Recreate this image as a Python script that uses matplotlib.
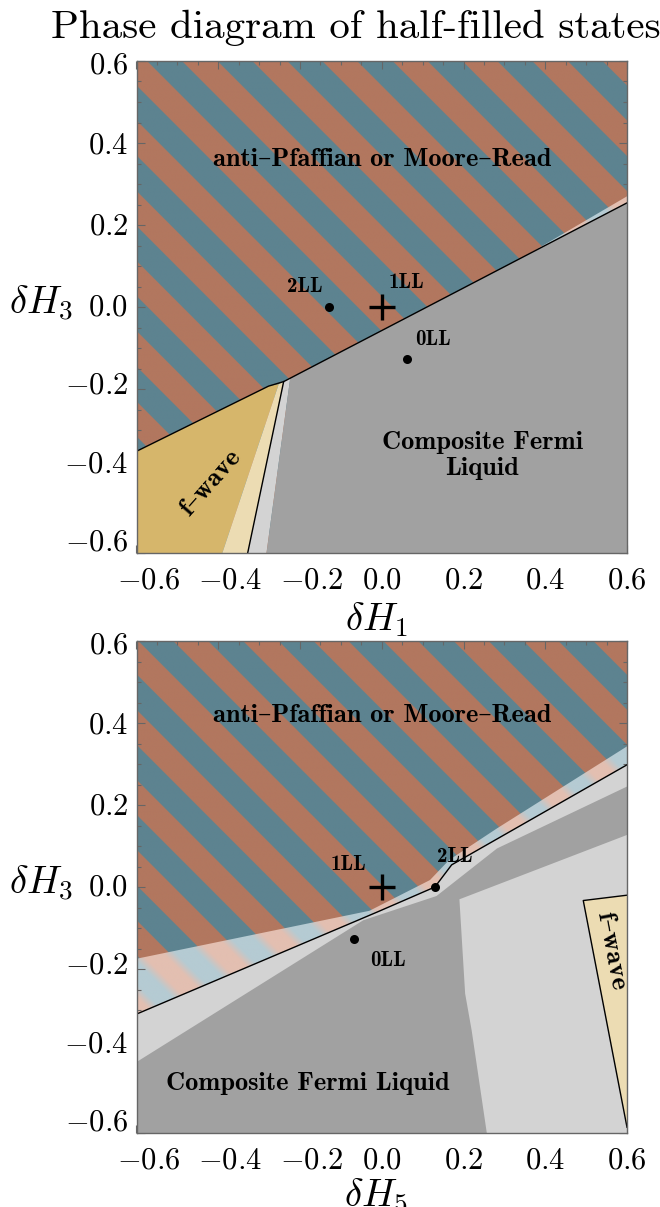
import numpy as np
import matplotlib
matplotlib.use("Agg")
import matplotlib.pyplot as plt
from matplotlib.patches import Polygon
from matplotlib import transforms as mtransforms
from matplotlib.ticker import MultipleLocator

plt.rcParams["mathtext.fontset"] = "cm"

# ---------------- data ----------------
tick_values = [-0.6, -0.4, -0.2, 0.0, 0.2, 0.4, 0.6]

# diagonal stripe pattern marking the anti-Pfaffian / Moore-Read phase
stripe_period = 0.1714
top_stripe_offset = 0.025
bot_stripe_offset = 0.003

# top panel (dH1, dH3)
top_boundary_x = [-0.6, -0.277, -0.240, 0.6]
top_boundary_y = [-0.352, -0.193, -0.182, 0.254]
top_fwave_edge_x = [-0.240, -0.328]
top_fwave_edge_y = [-0.182, -0.600]
top_fwave_dark_x = [-0.6, -0.277, -0.252, -0.390, -0.6]
top_fwave_dark_y = [-0.352, -0.193, -0.188, -0.600, -0.600]
top_fwave_pale_x = [-0.252, -0.240, -0.328, -0.390]
top_fwave_pale_y = [-0.188, -0.182, -0.600, -0.600]
top_cfl_pale_x = [-0.240, -0.224, -0.282, -0.328]
top_cfl_pale_y = [-0.182, -0.174, -0.600, -0.600]
top_cfl_x = [-0.224, 0.6, 0.6, -0.282]
top_cfl_y = [-0.174, 0.254, -0.6, -0.6]
top_pale_stripe_x = [0.35, 0.6, 0.6]
top_pale_stripe_y = [0.124, 0.254, 0.270]
top_points_x = [-0.13, 0.0, 0.062]
top_points_y = [0.0, 0.0, -0.128]
top_points_name = ["2LL", "1LL", "0LL"]

# bottom panel (dH5, dH3)
bot_boundary_x = [-0.6, -0.011, 0.13, 0.171, 0.6]
bot_boundary_y = [-0.310, -0.061, 0.0, 0.054, 0.298]
bot_pale_upper_x = [-0.6, -0.03, 0.118, 0.165, 0.282, 0.6]
bot_pale_upper_y = [-0.175, -0.058, 0.017, 0.066, 0.143, 0.343]
bot_cfl_strip_lower_x = [-0.6, -0.045, 0.134, 0.282, 0.6]
bot_cfl_strip_lower_y = [-0.427, -0.081, -0.022, 0.094, 0.245]
bot_cfl_pale_x = [0.19, 0.6, 0.6, 0.257, 0.22, 0.204]
bot_cfl_pale_y = [-0.03, 0.127, -0.6, -0.6, -0.35, -0.26]
bot_fwave_x = [0.493, 0.6, 0.6]
bot_fwave_y = [-0.033, -0.020, -0.586]
bot_points_x = [0.13, 0.0, -0.067]
bot_points_y = [0.0, 0.0, -0.128]
bot_points_name = ["2LL", "1LL", "0LL"]

# ---------------- style ----------------
col_blue = np.array([93, 131, 144]) / 255
col_orange = np.array([178, 119, 95]) / 255
col_blue_pale = np.array([181, 203, 211]) / 255
col_orange_pale = np.array([227, 191, 177]) / 255
col_cfl = "#a1a1a1"
col_cfl_pale = "#d3d3d3"
col_f_dark = "#d6b66b"
col_f_pale = "#ecdcb3"
frame_col = "#666666"

W, H = 660, 1207
fig = plt.figure(figsize=(W / 100, H / 100), dpi=100)

label_font = dict(family=["cmb10", "DejaVu Serif"], color="black")
region_size = 19
tick_size = 22


def px_box(left, top, right, bottom):
    return [left / W, 1 - bottom / H, (right - left) / W, (bottom - top) / H]


def stripes(ax, c_a, c_b, offset, clip=None, soft=False, z=0):
    n = 900
    g = np.linspace(-0.6, 0.6, n)
    X, Y = np.meshgrid(g, g)
    ph = ((X + Y - offset) / stripe_period) % 1.0
    if soft:
        w = 0.5 + 0.5 * np.clip(1.8 * np.sin(2 * np.pi * ph), -1, 1)
    else:
        w = (ph < 0.5).astype(float)
    rgb = c_b[None, None, :] * (1 - w[..., None]) + c_a[None, None, :] * w[..., None]
    im = ax.imshow(rgb, extent=(-0.6, 0.6, -0.6, 0.6), origin="lower",
                   interpolation="antialiased", aspect="auto", zorder=z)
    if clip is not None:
        im.set_clip_path(Polygon(np.column_stack(clip), closed=True,
                                 transform=ax.transData))
    return im


def fill(ax, xs, ys, color, z):
    ax.add_patch(Polygon(np.column_stack([xs, ys]), closed=True,
                         facecolor=color, edgecolor="none", zorder=z))


def frame(ax):
    ax.set_xlim(-0.6, 0.6)
    ax.set_ylim(-0.6, 0.6)
    ax.xaxis.set_major_locator(MultipleLocator(0.2))
    ax.yaxis.set_major_locator(MultipleLocator(0.2))
    ax.xaxis.set_minor_locator(MultipleLocator(0.05))
    ax.yaxis.set_minor_locator(MultipleLocator(0.05))
    ax.tick_params(which="both", direction="in", top=True, right=True,
                   labelbottom=False, labelleft=False, color=frame_col, width=0.8)
    ax.tick_params(which="major", length=6)
    ax.tick_params(which="minor", length=3)
    for s in ax.spines.values():
        s.set_color(frame_col)
        s.set_linewidth(1.0)
        s.set_zorder(10)
    # tick labels: digits centred on the tick, minus sign hanging to the left
    minus_half = 0.389 * tick_size
    for v in tick_values:
        txt = r"$%.1f$" % v
        dx = minus_half if v < 0 else 0
        tr = mtransforms.offset_copy(ax.get_xaxis_transform(), fig=fig,
                                     x=dx, y=-9, units="points")
        ax.text(v, 0, txt, transform=tr, ha="center", va="top",
                fontsize=tick_size, clip_on=False)
        dy = -v * 4.5 if v > 0 else -v * 13
        tr = mtransforms.offset_copy(ax.get_yaxis_transform(), fig=fig,
                                     x=-6, y=dy, units="points")
        ax.text(0, v, txt, transform=tr, ha="right", va="center",
                fontsize=tick_size, clip_on=False)


def ll_points(ax, xs, ys, names, offsets):
    for x, y, name, off in zip(xs, ys, names, offsets):
        if name == "1LL":
            ax.plot([x], [y], marker="+", ms=19, mew=2.4, color="black", zorder=8)
        else:
            ax.plot([x], [y], marker="o", ms=6.5, color="black", zorder=8, mec="none")
        ax.annotate(name, (x, y), xytext=off, textcoords="offset pixels",
                    ha="center", va="center", fontsize=15, zorder=9, **label_font)


# ================= top panel =================
ax1 = fig.add_axes(px_box(136.5, 61, 627, 553))
stripes(ax1, col_blue, col_orange, top_stripe_offset, z=0)
stripes(ax1, col_blue_pale, col_orange_pale, top_stripe_offset, soft=True, z=1,
        clip=(top_pale_stripe_x, top_pale_stripe_y))
fill(ax1, top_fwave_dark_x, top_fwave_dark_y, col_f_dark, 2)
fill(ax1, top_fwave_pale_x, top_fwave_pale_y, col_f_pale, 2)
fill(ax1, top_cfl_pale_x, top_cfl_pale_y, col_cfl_pale, 2)
fill(ax1, top_cfl_x, top_cfl_y, col_cfl, 2)
ax1.plot(top_boundary_x, top_boundary_y, color="black", lw=1.0, zorder=5)
ax1.plot(top_fwave_edge_x, top_fwave_edge_y, color="black", lw=1.0, zorder=5)
ll_points(ax1, top_points_x, top_points_y, top_points_name,
          [(-24, 20), (25, 24), (26, 20)])
ax1.text(0.0, 0.359, "anti–Pfaffian or Moore–Read", ha="center", va="center",
         fontsize=region_size, zorder=9, **label_font)
ax1.text(0.246, -0.362, "Composite Fermi\nLiquid", ha="center", va="center",
         fontsize=region_size, linespacing=1.15, zorder=9, **label_font)
ax1.text(-0.419, -0.430, "f–wave", ha="center", va="center", rotation=48.7,
         rotation_mode="anchor", fontsize=region_size, zorder=9, **label_font)
frame(ax1)

# ================= bottom panel =================
ax2 = fig.add_axes(px_box(136.5, 641, 627, 1133))
stripes(ax2, col_blue, col_orange, bot_stripe_offset, z=0)
stripes(ax2, col_blue_pale, col_orange_pale, bot_stripe_offset, soft=True, z=1,
        clip=(bot_pale_upper_x + bot_boundary_x[::-1],
              bot_pale_upper_y + bot_boundary_y[::-1]))
fill(ax2, bot_boundary_x + [0.6, -0.6], bot_boundary_y + [-0.6, -0.6], col_cfl_pale, 2)
fill(ax2, bot_cfl_strip_lower_x + [0.6, -0.6], bot_cfl_strip_lower_y + [-0.6, -0.6],
     col_cfl, 2)
fill(ax2, bot_cfl_pale_x, bot_cfl_pale_y, col_cfl_pale, 3)
fill(ax2, bot_fwave_x, bot_fwave_y, col_f_pale, 4)
ax2.plot([bot_fwave_x[1], bot_fwave_x[0], bot_fwave_x[2]],
         [bot_fwave_y[1], bot_fwave_y[0], bot_fwave_y[2]], color="black", lw=1.0, zorder=5)
ax2.plot(bot_boundary_x, bot_boundary_y, color="black", lw=1.0, zorder=5)
ll_points(ax2, bot_points_x, bot_points_y, bot_points_name,
          [(20, 30), (-33, 22), (34, -21)])
ax2.text(0.0, 0.418, "anti–Pfaffian or Moore–Read", ha="center", va="center",
         fontsize=region_size, zorder=9, **label_font)
ax2.text(-0.180, -0.479, "Composite Fermi Liquid", ha="center", va="center",
         fontsize=region_size, zorder=9, **label_font)
ax2.text(0.561, -0.156, "f–wave", ha="center", va="center", rotation=-79.2,
         rotation_mode="anchor", fontsize=region_size, zorder=9, **label_font)
frame(ax2)

# ---------------- titles and axis names ----------------
fig.text(356 / W, 1 - 28 / H, "Phase diagram of half-filled states",
         family=["cmr10", "DejaVu Serif"], fontsize=29.5, ha="center", va="center")
fig.text(9 / W, 1 - 303 / H, r"$\delta H_3$", fontsize=28, ha="left", va="center")
fig.text(9 / W, 1 - 883 / H, r"$\delta H_3$", fontsize=28, ha="left", va="center")
fig.text(376 / W, 1 - 600 / H, r"$\delta H_1$", fontsize=28, ha="center", va="top")
fig.text(376 / W, 1 - 1176 / H, r"$\delta H_5$", fontsize=28, ha="center", va="top")

fig.savefig("out.png", dpi=100)
